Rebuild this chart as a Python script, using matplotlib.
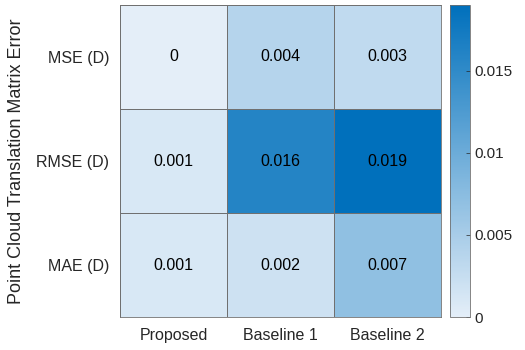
import numpy as np
import matplotlib
matplotlib.use("Agg")
import matplotlib.pyplot as plt
from matplotlib.colors import LinearSegmentedColormap

plt.rcParams['font.family'] = ['Liberation Sans', 'DejaVu Sans']

methods = ['Proposed', 'Baseline 1', 'Baseline 2']
metrics = ['MSE (D)', 'RMSE (D)', 'MAE (D)']
mse = [0.0, 0.004, 0.003]
rmse = [0.001, 0.016, 0.019]
mae = [0.001, 0.002, 0.007]

data = np.array([mse, rmse, mae])

# MATLAB-like heatmap blues
cmap = LinearSegmentedColormap.from_list('mblue', ['#e4eef8', '#0070bc'])

fig = plt.figure(figsize=(5.25, 3.5), dpi=100)
ax = fig.add_axes([0.229, 0.094, 0.611, 0.892])
cax = fig.add_axes([0.857, 0.094, 0.038, 0.892])

im = ax.pcolormesh(data, cmap=cmap, vmin=0, vmax=data.max(),
                   edgecolor='#707070', linewidth=0.5)
ax.set_xlim(0, 3)
ax.set_ylim(3, 0)
ax.set_xticks(np.arange(3) + 0.5)
ax.set_xticklabels(methods, fontsize=11.5, color='#262626')
ax.set_yticks(np.arange(3) + 0.5)
ax.set_yticklabels(metrics, fontsize=11.5, color='#262626')
ax.tick_params(length=0, pad=8)
for s in ax.spines.values():
    s.set_color('#707070')
    s.set_linewidth(0.6)
ax.set_ylabel('Point Cloud Translation Matrix Error', fontsize=13, color='#262626', labelpad=8)

for i in range(3):
    for j in range(3):
        ax.text(j + 0.5, i + 0.5, '%g' % data[i, j], ha='center', va='center',
                fontsize=11.5, color='black')

cb = fig.colorbar(im, cax=cax)
cb.set_ticks([0, 0.005, 0.01, 0.015])
cb.set_ticklabels(['0', '0.005', '0.01', '0.015'])
cb.ax.tick_params(labelsize=11, colors='#262626', direction='in', length=3, width=0.5)
cb.outline.set_edgecolor('#707070')
cb.outline.set_linewidth(0.6)

fig.savefig('out.png', dpi=100)
